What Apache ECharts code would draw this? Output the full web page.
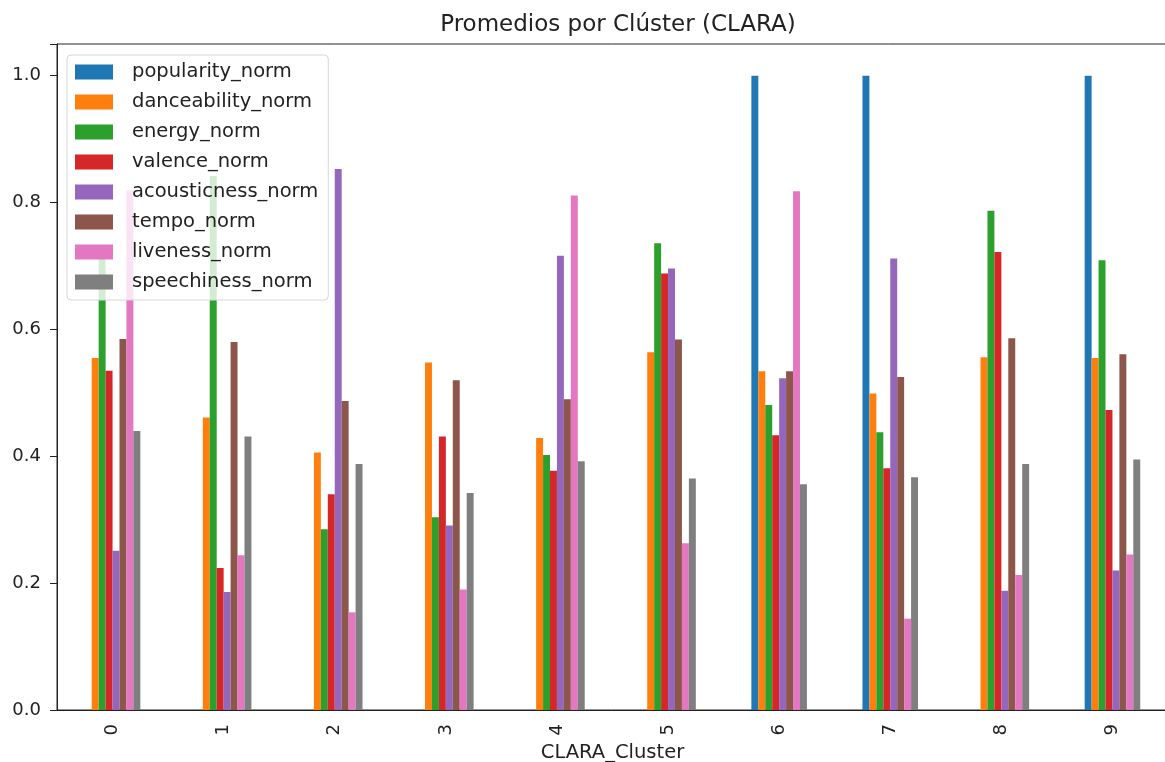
<!DOCTYPE html>
<html>
<head>
<meta charset="utf-8">
<script src="https://cdn.jsdelivr.net/npm/echarts@6/dist/echarts.min.js"></script>
<style>
  html, body { margin: 0; padding: 0; background: #fff; }
  #chart { width: 1165px; height: 762px; }
</style>
</head>
<body>
<div id="chart"></div>
<script>
const clusters = ['0', '1', '2', '3', '4', '5', '6', '7', '8', '9']

const popularity   = [0, 0, 0, 0, 0, 0, 1.0, 1.0, 0, 1.0]
const danceability = [0.555, 0.461, 0.406, 0.548, 0.429, 0.564, 0.534, 0.499, 0.556, 0.555]
const energy       = [0.713, 0.842, 0.285, 0.304, 0.402, 0.736, 0.481, 0.438, 0.787, 0.709]
const valence      = [0.535, 0.224, 0.340, 0.431, 0.377, 0.688, 0.433, 0.381, 0.722, 0.473]
const acousticness = [0.251, 0.186, 0.853, 0.291, 0.716, 0.696, 0.523, 0.712, 0.188, 0.220]
const tempo        = [0.585, 0.580, 0.487, 0.520, 0.490, 0.584, 0.534, 0.525, 0.586, 0.561]
const liveness     = [0.819, 0.244, 0.154, 0.190, 0.811, 0.263, 0.818, 0.144, 0.213, 0.245]
const speechiness  = [0.440, 0.431, 0.388, 0.342, 0.392, 0.365, 0.356, 0.367, 0.388, 0.395]

const yTicks = [0, 0.2, 0.4, 0.6, 0.8, 1.0]

const seriesDefs = [
  { name: 'popularity_norm', data: popularity, color: '#1f77b4' },
  { name: 'danceability_norm', data: danceability, color: '#ff7f0e' },
  { name: 'energy_norm', data: energy, color: '#2ca02c' },
  { name: 'valence_norm', data: valence, color: '#d62728' },
  { name: 'acousticness_norm', data: acousticness, color: '#9467bd' },
  { name: 'tempo_norm', data: tempo, color: '#8c564b' },
  { name: 'liveness_norm', data: liveness, color: '#e377c2' },
  { name: 'speechiness_norm', data: speechiness, color: '#7f7f7f' }
]

const font = 'DejaVu Sans'
const chart = echarts.init(document.getElementById('chart'), null, { renderer: 'canvas' })

const option = {
  animation: false,
  backgroundColor: '#fff',
  title: {
    text: 'Promedios por Clúster (CLARA)',
    left: 613,
    textAlign: 'center',
    top: 9,
    textStyle: { fontFamily: font, fontSize: 23, fontWeight: 'normal', color: '#222' }
  },
  legend: {
    orient: 'vertical',
    left: 67,
    top: 55,
    padding: [7, 10, 8, 8],
    itemWidth: 38,
    itemHeight: 15,
    itemGap: 10,
    backgroundColor: 'rgba(255,255,255,0.8)',
    borderColor: '#d6d6d6',
    borderWidth: 1,
    borderRadius: 4,
    icon: 'rect',
    textStyle: { fontFamily: font, fontSize: 19.5, color: '#222', padding: [0, 0, 0, 14] },
    data: seriesDefs.map(s => s.name)
  },
  grid: {
    left: 57,
    top: 44,
    width: 1111,
    bottom: 52,
    outerBoundsMode: 'none',
    containLabel: false,
    show: true,
    borderColor: '#222',
    borderWidth: 1,
    backgroundColor: 'transparent'
  },
  xAxis: {
    type: 'category',
    data: clusters,
    name: 'CLARA_Cluster',
    nameLocation: 'middle',
    nameGap: 31,
    nameTextStyle: { fontFamily: font, fontSize: 19.5, color: '#222' },
    axisLine: { lineStyle: { color: '#222', width: 1 } },
    axisTick: { alignWithLabel: true, length: 6, lineStyle: { color: '#222' } },
    axisLabel: { rotate: 90, margin: 14, fontFamily: font, fontSize: 18, color: '#222' },
    splitLine: { show: false }
  },
  yAxis: {
    type: 'value',
    min: 0,
    max: 1.05,
    interval: 0.2,
    axisLine: { show: true, lineStyle: { color: '#222', width: 1 } },
    axisTick: { show: true, inside: false, length: 7, lineStyle: { color: '#222' } },
    axisLabel: {
      margin: 16,
      fontFamily: font,
      fontSize: 18,
      color: '#222',
      formatter: v => yTicks.some(t => Math.abs(t - v) < 1e-6) ? v.toFixed(1) : ''
    },
    splitLine: { show: false }
  },
  series: seriesDefs.map(s => ({
    name: s.name,
    type: 'bar',
    data: s.data,
    itemStyle: { color: s.color },
    barGap: '0%',
    barCategoryGap: '50%'
  }))
}

chart.setOption(option)
</script>
</body>
</html>
